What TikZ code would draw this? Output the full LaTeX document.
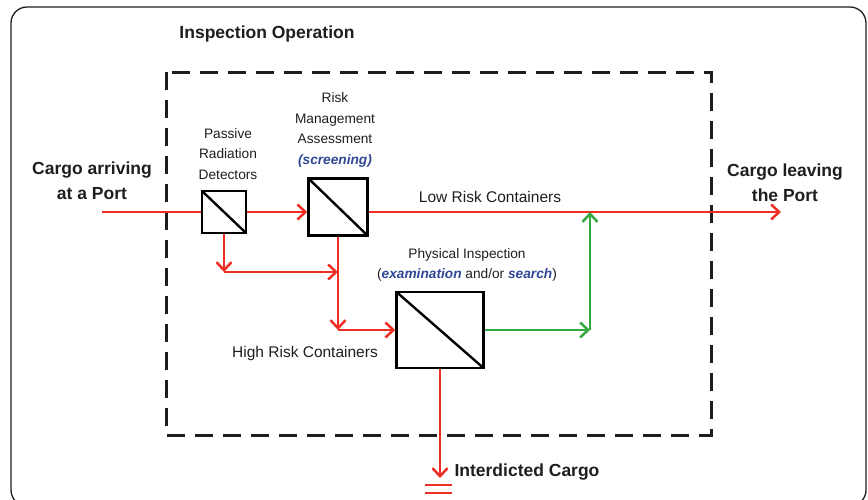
\documentclass[tikz,border=0pt]{standalone}
\usepackage{fontspec}
\setmainfont{Liberation Sans}
\usetikzlibrary{arrows.meta}
\definecolor{flowred}{RGB}{236,46,36}
\definecolor{flowgreen}{RGB}{52,170,64}
\definecolor{noteblue}{RGB}{48,72,150}
\definecolor{ink}{RGB}{30,30,30}
\tikzset{
  bigtxt/.style={inner sep=0pt, align=center, text=ink, font=\fontsize{17.5}{25}\selectfont\bfseries},
  smalltxt/.style={inner sep=0pt, align=center, text=ink, font=\fontsize{13.7}{20.5}\selectfont},
  midtxt/.style={inner sep=0pt, text=ink, font=\fontsize{15.5}{19}\selectfont},
  filterbox/.style={draw=black, line width=2.5pt, fill=white, inner sep=0pt,
    path picture={\draw[line width=2.4pt] (path picture bounding box.north west) -- (path picture bounding box.south east);}},
  redflow/.style={draw=flowred, line width=2.5pt},
  greenflow/.style={draw=flowgreen, line width=2.5pt},
  flowtip/.style={-{Straight Barb[length=8pt,width=15pt,line width=2.5pt]}},
}
\begin{document}
\begin{tikzpicture}[x=1pt,y=-1pt]
  \clip (0,0) rectangle (868,499);
  \useasboundingbox (0,0) rectangle (868,499);
  % outer rounded frame
  \draw[ink, line width=1.3pt, rounded corners=16pt] (11,7) rectangle (866,506);
  % inspection operation boundary
  \draw[ink, line width=3pt, dash pattern=on 18pt off 10pt] (166,72) rectangle (711,435);

  % screening stages
  \node[filterbox, minimum width=44pt, minimum height=42pt] (pd) at (224,212) {};
  \node[filterbox, minimum width=59pt, minimum height=57pt] (rm) at (338,207) {};
  \node[filterbox, minimum width=87pt, minimum height=76pt] (pi) at (440,330) {};

  % flow points
  \coordinate (cin) at (102,212);
  \coordinate (cout) at (781,212);
  \coordinate (a1) at (224,272);
  \coordinate (a2) at (338,272);
  \coordinate (b1) at (338,330);
  \coordinate (g1) at (590,330);
  \coordinate (ic) at (440,478);

  % main cargo flow
  \draw[redflow] (cin) -- (pd.west);
  \draw[redflow, flowtip] (pd.east) -- (pd.east -| rm.west);
  \draw[redflow, flowtip] (pd.east -| rm.east) -- (cout);
  % alarms from the detectors
  \draw[redflow, flowtip] (pd.south) -- (a1);
  \draw[redflow, flowtip] (a1) -- (a2);
  % high risk branch
  \draw[redflow, flowtip] (rm.south) -- (b1);
  \draw[redflow, flowtip] (b1) -- (pi.west);
  % cleared containers rejoin
  \draw[greenflow, flowtip] (pi.east) -- (g1);
  \draw[greenflow, flowtip] (g1) -- (g1 |- cout);
  % interdiction
  \draw[redflow, flowtip] (pi.south) -- (ic);
  \draw[flowred, line width=2.5pt] (425,485) -- (452,485) (425,493) -- (452,493);

  % labels
  \node[bigtxt] (title) at (267,34) {Inspection Operation};
  \node[bigtxt] (arrive) at (92,181) {Cargo arriving\\at a Port};
  \node[bigtxt] (leave) at (785,183) {Cargo leaving\\the Port};
  \node[smalltxt] (pdl) at (228,154) {Passive\\Radiation\\Detectors};
  \node[smalltxt] (rml) at (335,130) {Risk\\Management\\Assessment\\{\color{noteblue}\bfseries\itshape (screening)}};
  \node[midtxt] (low) at (490,197) {Low Risk Containers};
  \node[midtxt] (high) at (305,353) {High Risk Containers};
  \node[smalltxt] (pil) at (467,265) {Physical Inspection\\(\textcolor{noteblue}{\bfseries\itshape examination} and/or \textcolor{noteblue}{\bfseries\itshape search})};
  \node[bigtxt] (intl) at (527,472) {Interdicted Cargo};
\end{tikzpicture}
\end{document}
